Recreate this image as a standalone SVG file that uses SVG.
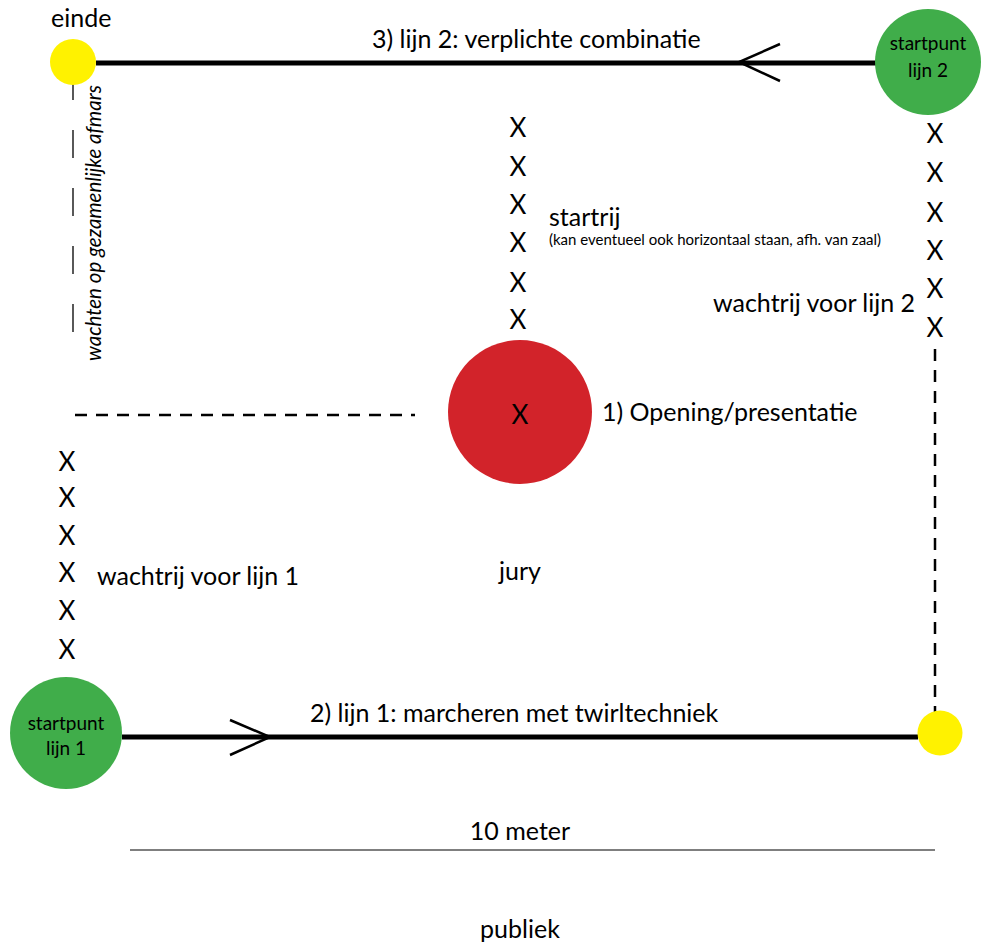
<svg xmlns="http://www.w3.org/2000/svg" width="982" height="946" viewBox="0 0 982 946">
<style>
text{font-family:Lato,"Liberation Sans",sans-serif;fill:#000}
.lbl{font-size:25px}
.x{font-size:26px;text-anchor:middle}
.cl{font-size:19px;text-anchor:middle}
.sm{font-size:15px}
.mid{text-anchor:middle}
.path{stroke:#000;stroke-width:5;fill:none}
.chev{stroke:#000;stroke-width:2.5;fill:none}
.dash{stroke:#000;stroke-width:2.5;stroke-dasharray:12 9;fill:none}
</style>
<rect width="982" height="946" fill="#fff"/>
<g id="connectors">
<line class="path" x1="96" y1="63" x2="876" y2="63"/>
<polyline class="chev" points="780,44 739,62 780,81"/>
<line class="path" x1="122" y1="737" x2="918" y2="737"/>
<polyline class="chev" points="230,720 270,737 230,755"/>
<line class="dash" x1="935" y1="349" x2="935" y2="712"/>
<line class="dash" x1="75" y1="415" x2="415" y2="415"/>
<line stroke="#000" stroke-width="1.3" stroke-dasharray="28 30" x1="73" y1="72" x2="73" y2="334"/>
<line stroke="#555" stroke-width="1.3" x1="130" y1="850" x2="935" y2="850"/>
</g>
<g id="einde">
<circle cx="73" cy="62" r="23" fill="#fff200"/>
<text class="lbl" x="51" y="27">einde</text>
</g>
<g id="startpunt2">
<circle cx="928" cy="62" r="53" fill="#40ad4a"/>
<text class="cl" x="928" y="50">startpunt</text>
<text class="cl" x="928" y="77">lijn 2</text>
</g>
<g id="startpunt1">
<circle cx="66" cy="733" r="56" fill="#40ad4a"/>
<text class="cl" x="66" y="730">startpunt</text>
<text class="cl" x="66" y="755">lijn 1</text>
</g>
<g id="eindpunt1">
<circle cx="940" cy="733" r="22.5" fill="#fff200"/>
</g>
<g id="jury">
<circle cx="520" cy="412" r="72" fill="#d2232a"/>
<text class="x" x="520" y="424">X</text>
<text class="lbl mid" x="520" y="580">jury</text>
<text class="lbl" x="602" y="421">1) Opening/presentatie</text>
</g>
<g id="startrij">
<text class="x" x="518" y="137">X</text>
<text class="x" x="518" y="176">X</text>
<text class="x" x="518" y="214">X</text>
<text class="x" x="518" y="252">X</text>
<text class="x" x="518" y="292">X</text>
<text class="x" x="518" y="329">X</text>
<text class="lbl" x="549" y="226">startrij</text>
<text class="sm" x="549" y="245">(kan eventueel ook horizontaal staan, afh. van zaal)</text>
</g>
<g id="wachtrij2">
<text class="x" x="935" y="143">X</text>
<text class="x" x="935" y="182">X</text>
<text class="x" x="935" y="222">X</text>
<text class="x" x="935" y="260">X</text>
<text class="x" x="935" y="298">X</text>
<text class="x" x="935" y="337">X</text>
<text class="lbl" x="713" y="312">wachtrij voor lijn 2</text>
</g>
<g id="wachtrij1">
<text class="x" x="67" y="471">X</text>
<text class="x" x="67" y="507">X</text>
<text class="x" x="67" y="545">X</text>
<text class="x" x="67" y="582">X</text>
<text class="x" x="67" y="620">X</text>
<text class="x" x="67" y="659">X</text>
<text class="lbl" x="97" y="585">wachtrij voor lijn 1</text>
</g>
<g id="labels">
<text class="lbl" x="372" y="48">3) lijn 2: verplichte combinatie</text>
<text class="lbl" x="310" y="722">2) lijn 1: marcheren met twirltechniek</text>
<text font-size="20.5" font-style="italic" text-anchor="middle" transform="translate(101,223) rotate(-90)">wachten op gezamenlijke afmars</text>
<text class="lbl mid" x="520" y="840">10 meter</text>
<text class="lbl mid" x="520" y="938">publiek</text>
</g>
</svg>
